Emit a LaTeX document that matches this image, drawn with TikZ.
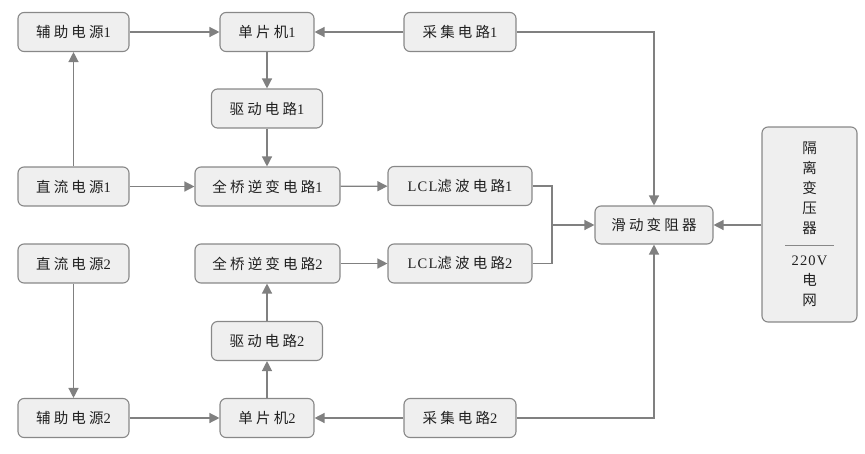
\documentclass[tikz,border=0pt]{standalone}
\usepackage{fontspec}
\setmainfont{Liberation Serif}
\newfontfamily\cjk[LetterSpace=22]{Noto Sans CJK SC}
\newfontfamily\lat[LetterSpace=8]{Liberation Serif}
\newcommand\zh[1]{{\cjk #1}}
\usetikzlibrary{arrows.meta}
\definecolor{lnc}{HTML}{808080}
\definecolor{bdc}{HTML}{888888}
\definecolor{fic}{HTML}{EFEFEF}
\definecolor{txc}{HTML}{202020}
\tikzset{
  blk/.style={draw=bdc, fill=fic, line width=1.1pt, rounded corners=6pt,
    minimum height=39pt, inner sep=0pt, text=txc, font=\fontsize{14.5pt}{16pt}\selectfont\lat},
  arr/.style={draw=lnc, line width=1.3pt, -{Triangle[length=10pt,width=10pt]}},
  ln/.style={draw=lnc, line width=1.3pt},
}
\begin{document}
\begin{tikzpicture}[x=1pt,y=-1pt]
\useasboundingbox (0,0) rectangle (865,453);
\node[blk, minimum width=111pt] (aux1) at (73.5,32) {\zh{辅助电源}1};
\node[blk, minimum width=94pt] (mcu1) at (267,32) {\zh{单片机}1};
\node[blk, minimum width=112pt] (acq1) at (460,32) {\zh{采集电路}1};
\node[blk, minimum width=111pt] (drv1) at (267,108.5) {\zh{驱动电路}1};
\node[blk, minimum width=111pt] (dc1) at (73.5,186.5) {\zh{直流电源}1};
\node[blk, minimum width=145pt] (inv1) at (267.5,186.5) {\zh{全桥逆变电路}1};
\node[blk, minimum width=144pt] (lcl1) at (460,186) {LCL\zh{滤波电路}1};
\node[blk, minimum width=118pt, minimum height=38pt] (slide) at (654,225) {\zh{滑动变阻器}};
\node[blk, minimum width=95pt, minimum height=195pt, align=center,
  font=\fontsize{14.5pt}{20pt}\selectfont\lat] (iso) at (809.5,224.5)
  {\zh{隔}\\\zh{离}\\\zh{变}\\\zh{压}\\\zh{器}\\[-4pt]{\color{bdc}\rule[4pt]{49pt}{0.8pt}}\\[-4pt]220V\\\zh{电}\\\zh{网}};
\node[blk, minimum width=111pt] (dc2) at (73.5,263.5) {\zh{直流电源}2};
\node[blk, minimum width=145pt] (inv2) at (267.5,263.5) {\zh{全桥逆变电路}2};
\node[blk, minimum width=144pt] (lcl2) at (460,263.5) {LCL\zh{滤波电路}2};
\node[blk, minimum width=111pt] (drv2) at (267,341) {\zh{驱动电路}2};
\node[blk, minimum width=111pt] (aux2) at (73.5,418) {\zh{辅助电源}2};
\node[blk, minimum width=94pt] (mcu2) at (267,418) {\zh{单片机}2};
\node[blk, minimum width=112pt] (acq2) at (460,418) {\zh{采集电路}2};
\coordinate (j) at (552,225);
% upper chain
\draw[arr] (aux1) -- (mcu1);
\draw[arr] (acq1) -- (mcu1);
\draw[arr] (acq1.east) -| (slide.north);
\draw[arr] (mcu1) -- (drv1);
\draw[arr] (drv1.south) -- (drv1.south |- inv1.north);
\draw[arr] (dc1) -- (aux1);
\draw[arr] (dc1) -- (inv1);
\draw[arr] (inv1) -- (lcl1);
\draw[ln] (lcl1.east) -| (j);
\draw[ln] (lcl2.east) -| (j);
\draw[arr] (j) -- (slide.west);
\draw[arr] (iso.west |- slide.east) -- (slide.east);
% lower chain
\draw[arr] (inv2) -- (lcl2);
\draw[arr] (dc2) -- (aux2);
\draw[arr] (aux2) -- (mcu2);
\draw[arr] (acq2) -- (mcu2);
\draw[arr] (acq2.east) -| (slide.south);
\draw[arr] (mcu2) -- (drv2);
\draw[arr] (drv2.north) -- (drv2.north |- inv2.south);
\end{tikzpicture}
\end{document}
